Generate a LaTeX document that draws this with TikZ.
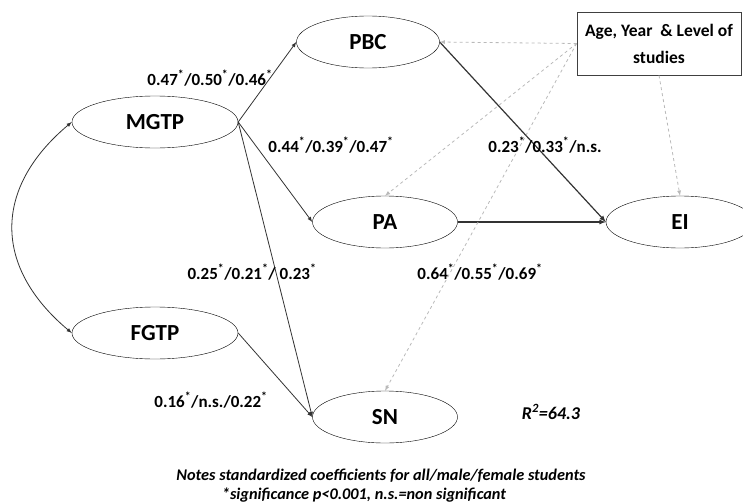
\documentclass[tikz,border=0pt]{standalone}
\usepackage{fontspec}
\setmainfont{Carlito}
\usepackage{tikz}
\usetikzlibrary{shapes.geometric}

\begin{document}
\begin{tikzpicture}[x=1pt,y=-1pt,>=latex,
  latent/.style={ellipse,draw,inner sep=0pt,minimum width=145,minimum height=52,
    font=\fontsize{23}{25}\selectfont\bfseries},
  coef/.style={font=\fontsize{17}{19}\selectfont\bfseries,inner sep=1pt},
  ctrl/.style={->,dashed,gray!55,thick},
  path/.style={->,thick,black!80}]
\useasboundingbox (0,0) rectangle (743,503);

% constructs
\node[latent,minimum width=166] (mgtp) at (155,122) {MGTP};
\node[latent,minimum width=166] (fgtp) at (155,333) {FGTP};
\node[latent,minimum width=143] (pbc) at (368,42) {PBC};
\node[latent] (pa) at (385,222) {PA};
\node[latent] (sn) at (385,417) {SN};
\node[latent,minimum width=148] (ei) at (680,222) {EI};
\node[draw=black!75,thick,minimum width=164,minimum height=63,align=center,
  font=\fontsize{17.5}{27}\selectfont\bfseries] (ctl) at (659,43.5)
  {Age, Year~~\& Level of\\studies};

% paths
\draw[<->,thick,black!80] (mgtp.west) .. controls (-7,188) and (-7,267) .. (fgtp.west);
\draw[path] (mgtp.east) -- (pbc.west);
\draw[path] (mgtp.east) -- (pa.west);
\draw[path] (mgtp.east) -- (sn.west);
\draw[path] (fgtp.east) -- (sn.west);
\draw[path,very thick] (pbc.east) -- (ei.west);
\draw[path,very thick] (pa.east) -- (ei.west);

% control variables
\draw[ctrl] (ctl.west) -- (pbc.east);
\draw[ctrl] (ctl.west) -- (pa.north);
\draw[ctrl] (ctl.west) -- (sn.north);
\draw[ctrl] (ctl.south) -- (ei.north);

% coefficients
\node[coef] (c1) at (210,78) {0.47\textsuperscript{*}/0.50\textsuperscript{*}/0.46\textsuperscript{*}};
\node[coef] (c2) at (331,145) {0.44\textsuperscript{*}/0.39\textsuperscript{*}/0.47\textsuperscript{*}};
\node[coef] (c3) at (545,145) {0.23\textsuperscript{*}/0.33\textsuperscript{*}/n.s.};
\node[coef] (c4) at (252,272) {0.25\textsuperscript{*}/0.21\textsuperscript{*}/ 0.23\textsuperscript{*}};
\node[coef] (c5) at (480,272) {0.64\textsuperscript{*}/0.55\textsuperscript{*}/0.69\textsuperscript{*}};
\node[coef] (c6) at (211,400) {0.16\textsuperscript{*}/n.s./0.22\textsuperscript{*}};
\node[coef,font=\fontsize{18}{20}\selectfont\bfseries\itshape] (r2) at (551,412) {R\textsuperscript{2}=64.3};

% notes
\node[coef,font=\fontsize{16.3}{18}\selectfont\bfseries\itshape] (n1) at (381,476)
  {Notes standardized coefficients for all/male/female students};
\node[coef,font=\fontsize{16.3}{18}\selectfont\bfseries\itshape] (n2) at (364,495)
  {*significance p<0.001, n.s.=non significant};
\end{tikzpicture}
\end{document}
